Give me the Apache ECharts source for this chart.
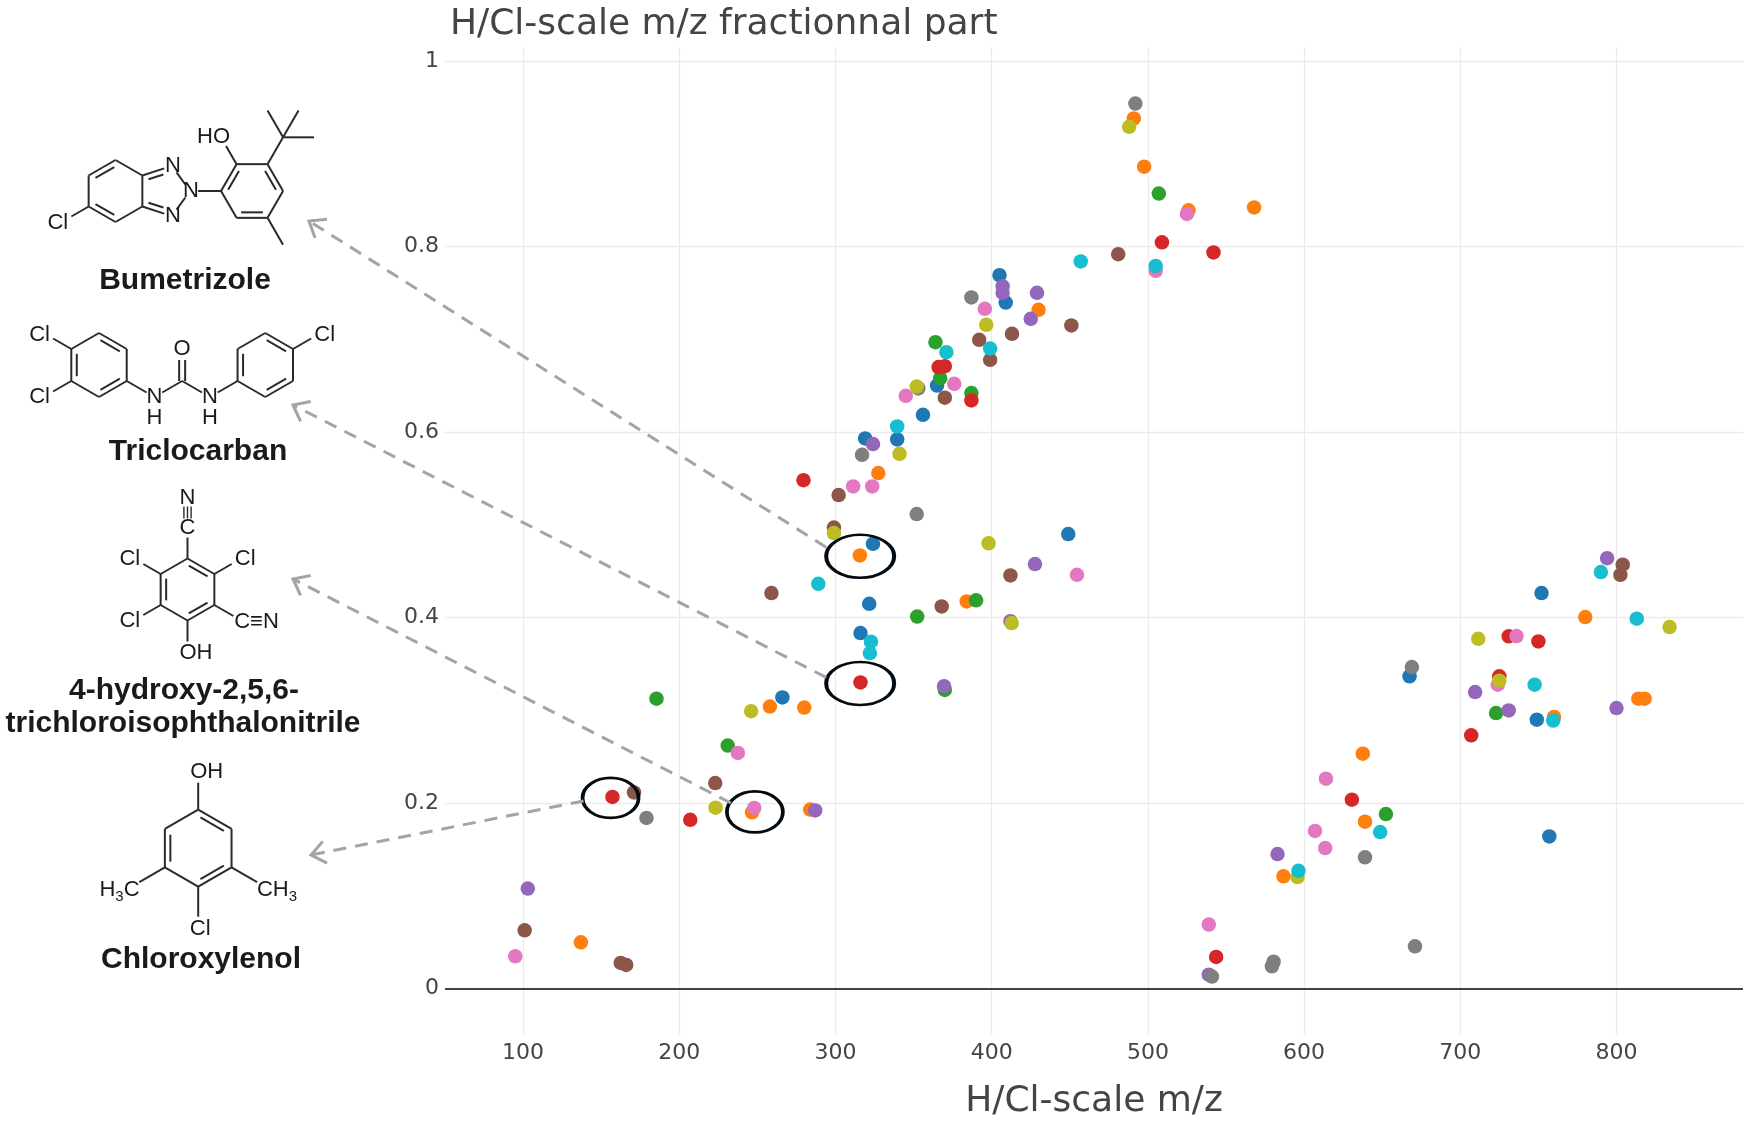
<!DOCTYPE html>
<html><head><meta charset="utf-8">
<script src="https://cdn.jsdelivr.net/npm/echarts@6/dist/echarts.min.js"></script>
<style>html,body{margin:0;padding:0;background:#fff}#c{width:1750px;height:1125px}</style>
</head><body><div id="c"></div>
<script>
// ---------- data ----------
const xTicks = [100, 200, 300, 400, 500, 600, 700, 800];
const yTicks = [0, 0.2, 0.4, 0.6, 0.8, 1];

const blue = [[319,0.593],[339.5,0.592],[324,0.4795],[321.6,0.4148],[316,0.3833],[266,0.3139],[405,0.769],[409,0.7395],[365,0.650],[356,0.6185],[449,0.490],[667.5,0.3366],[752,0.4264],[749,0.2899],[757,0.164]];
const orange = [[137,0.0499],[246.6,0.19],[283.8,0.193],[327.4,0.5557],[315.6,0.467],[384,0.4174],[258,0.304],[280,0.303],[430,0.7317],[491,0.938],[497.6,0.886],[526,0.839],[568,0.842],[637.6,0.2532],[639,0.180],[586.8,0.121],[780,0.4005],[814,0.3125],[818,0.3125],[760,0.2928]];
const green = [[231,0.262],[390,0.4185],[352.3,0.401],[370,0.322],[185.4,0.3125],[364,0.6968],[367,0.658],[387,0.642],[507,0.857],[652.4,0.1882],[722.9,0.297]];
const red = [[157.2,0.2066],[207,0.182],[279.5,0.548],[316,0.330],[366,0.670],[370,0.671],[387,0.634],[509,0.8045],[542,0.7935],[707,0.273],[630.6,0.2037],[543.7,0.0341],[731,0.3797],[750,0.3743],[725,0.3366]];
const purple = [[287,0.192],[103,0.1078],[324,0.587],[427.7,0.4577],[412,0.396],[369.5,0.326],[407,0.757],[407,0.750],[429,0.750],[425,0.722],[709.5,0.3197],[583,0.145],[539,0.015],[794,0.464],[800,0.3024],[731,0.2999]];
const brown = [[171,0.2115],[223,0.2216],[101,0.0628],[162.5,0.0277],[166,0.0255],[302,0.532],[299,0.497],[412,0.4454],[259,0.4264],[368,0.412],[481,0.7917],[451,0.7148],[413,0.7058],[392,0.6993],[399,0.6778],[370,0.637],[804,0.457],[802.5,0.446]];
const pink = [[248,0.1947],[95,0.0348],[237.5,0.254],[311.3,0.5413],[323.5,0.5413],[395.6,0.7328],[376,0.652],[345,0.639],[525,0.835],[505,0.7737],[454.6,0.446],[614,0.2263],[607,0.170],[613.5,0.1515],[539,0.069],[736,0.380],[724,0.3276]];
const gray = [[179,0.184],[317,0.5754],[352,0.5115],[387,0.745],[353,0.647],[492,0.954],[669,0.3466],[639,0.1415],[579.4,0.024],[580.5,0.029],[541,0.013],[671,0.0456]];
const olive = [[223.2,0.195],[341,0.5765],[299,0.491],[398,0.480],[412.8,0.394],[246,0.299],[396.5,0.7155],[352,0.649],[488,0.929],[711.5,0.377],[595.8,0.1203],[834,0.3897],[725,0.3319]];
const cyan = [[289,0.4364],[322.7,0.374],[322,0.3617],[339.5,0.606],[371,0.686],[399,0.690],[457,0.7838],[505,0.779],[648.7,0.1688],[596.4,0.127],[790,0.449],[813,0.3987],[747.6,0.3276],[759.5,0.289]];

// circled compounds (data coords): Bumetrizole, Triclocarban, Chloroxylenol, 4-hydroxy-...
const circled = [[315.8,0.466],[315.8,0.329],[156,0.2055],[248.4,0.1904]];

// ---------- styles ----------
const palette = ['#1f77b4','#ff7f0e','#2ca02c','#d62728','#9467bd','#8c564b','#e377c2','#7f7f7f','#bcbd22','#17becf'];
const groups = [blue, orange, green, red, purple, brown, pink, gray, olive, cyan];
const ellipseSizes = [[68,43],[68,43],[56,40],[56,41]];
const FONT = '"DejaVu Sans", Verdana, sans-serif';

const chart = echarts.init(document.getElementById('c'), null, {renderer: 'canvas'});

const series = groups.map((d, i) => ({
  type: 'scatter', data: d, symbol: 'circle', symbolSize: 14.5,
  itemStyle: {color: palette[i], opacity: 1}, z: 3, silent: true
}));
series[0].markLine = {
  silent: true, symbol: ['none','none'], label: {show: false},
  lineStyle: {color: '#444', width: 2.2, type: 'solid'},
  data: [{yAxis: 0}], animation: false
};
series.push({
  type: 'scatter', data: circled, symbol: 'circle',
  symbolSize: (v, p) => ellipseSizes[p.dataIndex],
  itemStyle: {color: 'rgba(0,0,0,0)', borderColor: '#020a12', borderWidth: 3.2, opacity: 1},
  z: 5, silent: true
});

const option = {
  animation: false,
  backgroundColor: '#fff',
  title: {
    text: 'H/Cl-scale m/z fractionnal part', left: 445, top: 2,
    textStyle: {fontFamily: FONT, fontSize: 36, fontWeight: 'normal', color: '#444'}
  },
  grid: {left: 445, right: 7, top: 47, bottom: 90, containLabel: false},
  xAxis: {
    type: 'value', min: 50, max: 881,
    name: 'H/Cl-scale m/z', nameLocation: 'middle', nameGap: 49,
    nameTextStyle: {fontFamily: FONT, fontSize: 36, color: '#444'},
    axisLine: {show: false}, axisTick: {show: false, customValues: xTicks},
    axisLabel: {customValues: xTicks, fontFamily: FONT, fontSize: 22, color: '#444', margin: 7},
    splitLine: {show: true, lineStyle: {color: '#ebebeb', width: 1.3}}
  },
  yAxis: {
    type: 'value', min: -0.05, max: 1.015,
    axisLine: {show: false}, axisTick: {show: false, customValues: yTicks},
    axisLabel: {customValues: yTicks, fontFamily: FONT, fontSize: 22, color: '#444', margin: 6,
      formatter: v => String(+(+v).toFixed(1))},
    splitLine: {show: true, lineStyle: {color: '#ebebeb', width: 1.3}}
  },
  series: series
};
chart.setOption(option);

// ---------- chemical structures (graphic) ----------
const G = [];
const BOND = '#2a2a2a';
const ATOM_FONT = '22px "Liberation Sans", Arial, sans-serif';
const NAME_FONT = 'bold 30px "Liberation Sans", Arial, sans-serif';
const mctx = document.createElement('canvas').getContext('2d');
function tw(s, font){ mctx.font = font; return mctx.measureText(s).width; }
function rad(a){ return a * Math.PI / 180; }
function pt(p, ang, L){ return [p[0] + L * Math.cos(rad(ang)), p[1] + L * Math.sin(rad(ang))]; }
function ln(a, b, ta, tb, w){
  ta = ta || 0; tb = tb || 0;
  const dx = b[0]-a[0], dy = b[1]-a[1], L = Math.hypot(dx, dy), ux = dx/L, uy = dy/L;
  G.push({type: 'line', silent: true, z: 20,
    shape: {x1: a[0]+ux*ta, y1: a[1]+uy*ta, x2: b[0]-ux*tb, y2: b[1]-uy*tb},
    style: {stroke: BOND, lineWidth: w || 2}});
}
function inner(a, b, c, ta, tb){
  const mx = (a[0]+b[0])/2, my = (a[1]+b[1])/2;
  let nx = c[0]-mx, ny = c[1]-my; const nl = Math.hypot(nx, ny); nx /= nl; ny /= nl;
  const off = 5.5, sh = 0.15;
  const a2 = [a[0]+nx*off+(b[0]-a[0])*sh, a[1]+ny*off+(b[1]-a[1])*sh];
  const b2 = [b[0]+nx*off-(b[0]-a[0])*sh, b[1]+ny*off-(b[1]-a[1])*sh];
  ln(a2, b2, ta, tb);
}
function hexPointy(c, r){ return [-90,-30,30,90,150,210].map(a => pt(c, a, r)); } // top,UR,LR,bottom,LL,UL
function hexFlat(c, r){ return [180,240,300,0,60,120].map(a => pt(c, a, r)); }    // left,TL,TR,right,BR,BL
function ring(v, c, doubles){
  for (let i = 0; i < 6; i++) ln(v[i], v[(i+1)%6]);
  doubles.forEach(i => inner(v[i], v[(i+1)%6], c));
}
function txt(s, x, y, font, align){
  G.push({type: 'text', silent: true, z: 21,
    style: {text: s, x: x, y: y, font: font || ATOM_FONT, fill: '#1a1a1a',
      align: align || 'center', verticalAlign: 'middle'}});
}
// text with subscripts: parts = [[str, isSub], ...]
function subText(parts, x, y, align){
  const SUB = '15px "Liberation Sans", Arial, sans-serif';
  const ws = parts.map(p => tw(p[0], p[1] ? SUB : ATOM_FONT));
  const total = ws.reduce((a, b) => a + b, 0);
  let sx = align === 'right' ? x - total : (align === 'center' ? x - total/2 : x);
  parts.forEach((p, i) => {
    G.push({type: 'text', silent: true, z: 21,
      style: {text: p[0], x: sx, y: p[1] ? y + 7 : y, font: p[1] ? SUB : ATOM_FONT,
        fill: '#1a1a1a', align: 'left', verticalAlign: 'middle'}});
    sx += ws[i];
  });
}

// Bumetrizole
(function(){
  const r = 31, L = 31;
  const c1 = [115.5, 191];
  const v1 = hexPointy(c1, r);
  ring(v1, c1, [5, 3]);
  const pc = [v1[1][0] + r*0.688, c1[1]];
  const R = r / (2*Math.sin(rad(36)));
  const N1 = pt(pc, -72, R), N2 = pt(pc, 0, R), N3 = pt(pc, 72, R);
  const T = 8;
  ln(v1[1], N1, 0, T); inner(v1[1], N1, pc, 0, 6);
  ln(N1, N2, T, T); ln(N2, N3, T, T);
  ln(N3, v1[2], T, 0); inner(N3, v1[2], pc, 6, 0);
  txt('N', N1[0] + 1, N1[1]); txt('N', N2[0] + 1, N2[1]); txt('N', N3[0] + 1, N3[1]);
  const c2 = [N2[0] + L + r, c1[1]];
  const v2 = hexFlat(c2, r);
  ln(N2, v2[0], T, 0);
  ring(v2, c2, [0, 2, 4]);
  const o = pt(v2[1], 240, L);
  ln(v2[1], o, 0, 10);
  txt('HO', o[0] + 9, o[1], ATOM_FONT, 'right');
  const q = pt(v2[2], 300, L);
  ln(v2[2], q);
  ln(q, pt(q, 240, L)); ln(q, pt(q, 300, L)); ln(q, pt(q, 0, L));
  ln(v2[4], pt(v2[4], 60, L));
  const cl = pt(v1[4], 150, L);
  ln(v1[4], cl, 0, 11);
  txt('Cl', cl[0] - 4, cl[1] + 1);
  txt('Bumetrizole', 185, 281, NAME_FONT);
})();

// Triclocarban
(function(){
  const r = 32, L = 32;
  const c1 = [99, 365];
  const v1 = hexPointy(c1, r);
  ring(v1, c1, [0, 2, 4]);
  const cla = pt(v1[5], 210, L), clb = pt(v1[4], 150, L);
  ln(v1[5], cla, 0, 11); ln(v1[4], clb, 0, 11);
  txt('Cl', cla[0] - 4, cla[1] + 2); txt('Cl', clb[0] - 4, clb[1]);
  const N1 = pt(v1[2], 30, L);
  const C = pt(N1, -30, L);
  const O = pt(C, -90, L);
  const N2 = pt(C, 30, L);
  const b = pt(N2, -30, L);
  const c2 = pt(b, -30, r);
  const v2 = hexPointy(c2, r);
  ln(v1[2], N1, 0, 9); ln(N1, C, 9, 0); ln(C, N2, 0, 9); ln(N2, b, 9, 0);
  ln([C[0]-3, C[1]], [O[0]-3, O[1]], 0, 11); ln([C[0]+3, C[1]], [O[0]+3, O[1]], 0, 11);
  txt('N', N1[0], N1[1]); txt('H', N1[0], N1[1] + 21);
  txt('N', N2[0], N2[1]); txt('H', N2[0], N2[1] + 21);
  txt('O', O[0], O[1]);
  ring(v2, c2, [0, 2, 4]);
  const clc = pt(v2[1], -30, L);
  ln(v2[1], clc, 0, 11);
  txt('Cl', clc[0] + 4, clc[1] + 2);
  txt('Triclocarban', 198, 452, NAME_FONT);
})();

// 4-hydroxy-2,5,6-trichloroisophthalonitrile
(function(){
  const r = 31, L = 31;
  const c = [187.5, 589.5];
  const v = hexPointy(c, r);
  ring(v, c, [0, 2, 4]);
  const Ct = pt(v[0], -90, L);
  ln(v[0], Ct, 0, 10);
  txt('C', Ct[0], Ct[1]);
  const Nt = [Ct[0], Ct[1] - 30];
  txt('N', Nt[0], Nt[1]);
  [-3.6, 0, 3.6].forEach(d => ln([Ct[0] + d, Ct[1] - 9], [Ct[0] + d, Ct[1] - 21], 0, 0, 1.4));
  const cl1 = pt(v[5], 210, L), cl2 = pt(v[1], -30, L), cl3 = pt(v[4], 150, L);
  ln(v[5], cl1, 0, 11); ln(v[1], cl2, 0, 11); ln(v[4], cl3, 0, 11);
  txt('Cl', cl1[0] - 4, cl1[1]); txt('Cl', cl2[0] + 4, cl2[1]); txt('Cl', cl3[0] - 4, cl3[1]);
  const cn = pt(v[2], 30, L);
  ln(v[2], cn, 0, 9);
  txt('C\u2261N', cn[0] - 7, cn[1] + 1, ATOM_FONT, 'left');
  const oh = pt(v[3], 90, L);
  ln(v[3], oh, 0, 10);
  txt('OH', oh[0] - 8, oh[1] + 1, ATOM_FONT, 'left');
  txt('4-hydroxy-2,5,6-', 184, 691, NAME_FONT);
  txt('trichloroisophthalonitrile', 183, 724, NAME_FONT);
})();

// Chloroxylenol
(function(){
  const r = 38.5, L = 38.5;
  const c = [198.2, 848.2];
  const v = hexPointy(c, r);
  ring(v, c, [0, 2, 4]);
  const oh = [v[0][0], v[0][1] - 38];
  ln(v[0], oh, 0, 11);
  txt('OH', oh[0] - 8, oh[1], ATOM_FONT, 'left');
  const m1 = pt(v[4], 150, L), m2 = pt(v[2], 30, L);
  ln(v[4], m1, 0, 9); ln(v[2], m2, 0, 9);
  subText([['H', false], ['3', true], ['C', false]], m1[0] + 8, m1[1] + 3, 'right');
  subText([['C', false], ['H', false], ['3', true]], m2[0] - 8, m2[1] + 3, 'left');
  const cl = [v[3][0], v[3][1] + 42];
  ln(v[3], cl, 0, 12);
  txt('Cl', cl[0] + 2, cl[1]);
  txt('Chloroxylenol', 201, 960, NAME_FONT);
})();

// ---------- dashed arrows from circled points to structures ----------
const arrowDefs = [
  {from: 0, off: [-34, -9], to: [309, 221]},
  {from: 1, off: [-34, -6], to: [293, 405]},
  {from: 3, off: [-24, -9], to: [293, 579]},
  {from: 2, off: [-27, 3], to: [311, 855]}
];
arrowDefs.forEach(a => {
  const p = chart.convertToPixel({gridIndex: 0}, circled[a.from]);
  const s = [p[0] + a.off[0], p[1] + a.off[1]];
  const e = a.to;
  G.push({type: 'line', silent: true, z: 15,
    shape: {x1: s[0], y1: s[1], x2: e[0], y2: e[1]},
    style: {stroke: '#a4a4a4', lineWidth: 3, lineDash: [13, 9]}});
  const ang = Math.atan2(s[1] - e[1], s[0] - e[0]);
  const h = 18, spread = rad(38);
  const a1 = [e[0] + h*Math.cos(ang + spread), e[1] + h*Math.sin(ang + spread)];
  const a2 = [e[0] + h*Math.cos(ang - spread), e[1] + h*Math.sin(ang - spread)];
  G.push({type: 'polyline', silent: true, z: 15,
    shape: {points: [a1, e, a2]},
    style: {stroke: '#a4a4a4', lineWidth: 3, fill: null, lineJoin: 'miter'}});
});

chart.setOption({graphic: {elements: G}});
</script>
</body></html>
